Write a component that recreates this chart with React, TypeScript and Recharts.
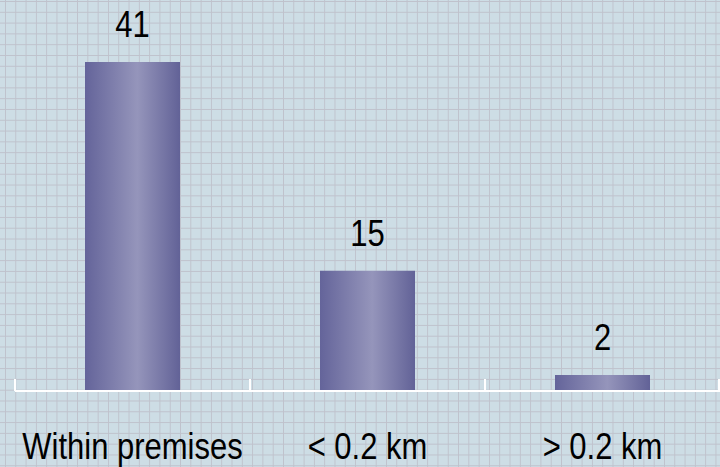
import React from 'react';
import { BarChart, Bar, XAxis, YAxis, LabelList, ReferenceLine } from 'recharts';

const categories = ['Within premises', '< 0.2 km', '> 0.2 km'];
const counts = [41, 15, 2];

const data = categories.map((name, i) => ({ name, count: counts[i] }));

const FONT = '"Liberation Sans", Arial, sans-serif';
const STRETCH = 1.18;

// tall, slightly condensed look of the labels
function TallText({ x, y, children }: { x: number; y: number; children: React.ReactNode }) {
  return (
    <g transform={`translate(${x},${y}) scale(1,${STRETCH})`}>
      <text x={0} y={0} textAnchor="middle" fontFamily={FONT} fontSize={31} fill="#000">
        {children}
      </text>
    </g>
  );
}

// category label plus the white tick marks on the band edges
function CategoryTick(props: any) {
  const { x, y, payload, index, visibleTicksCount } = props;
  const half = payload.offset || 117.5;
  const last = index === visibleTicksCount - 1;
  return (
    <g>
      <line x1={x - half} x2={x - half} y1={y - 12} y2={y} stroke="#ffffff" strokeWidth={2} />
      {last && <line x1={x + half - 1} x2={x + half - 1} y1={y - 12} y2={y} stroke="#ffffff" strokeWidth={2} />}
      <TallText x={x} y={y + 68}>{payload.value}</TallText>
    </g>
  );
}

function ValueLabel(props: any) {
  const { x, y, width, value } = props;
  return <TallText x={x + width / 2} y={y - 25}>{value}</TallText>;
}

const gridBg = {
  backgroundColor: '#cddde5',
  backgroundImage:
    'linear-gradient(to right, #bfc2cc 1px, transparent 1px), linear-gradient(to bottom, #bfc2cc 1px, transparent 1px)',
  backgroundSize: '10.3px 10.8px',
  backgroundPosition: '5px 1px',
};

export default function App() {
  return (
    <div style={{ position: 'absolute', left: 0, top: 0, width: 720, height: 467, ...gridBg }}>
      <BarChart width={720} height={467} data={data} margin={{ top: 30, right: 0, left: 15, bottom: 0 }}>
        <defs>
          <linearGradient id="barShade" x1="0" y1="0" x2="1" y2="0">
            <stop offset="0%" stopColor="#64649a" />
            <stop offset="55%" stopColor="#9595bb" />
            <stop offset="100%" stopColor="#626297" />
          </linearGradient>
        </defs>
        <XAxis
          dataKey="name"
          height={76}
          interval={0}
          axisLine={false}
          tickLine={false}
          tickSize={0}
          tickMargin={0}
          tick={<CategoryTick />}
        />
        <YAxis hide domain={[0, 45]} />
        <Bar dataKey="count" barSize={95} fill="url(#barShade)" isAnimationActive={false}>
          <LabelList dataKey="count" content={<ValueLabel />} />
        </Bar>
        <ReferenceLine y={0} stroke="#ffffff" strokeWidth={2} ifOverflow="visible" />
      </BarChart>
    </div>
  );
}
